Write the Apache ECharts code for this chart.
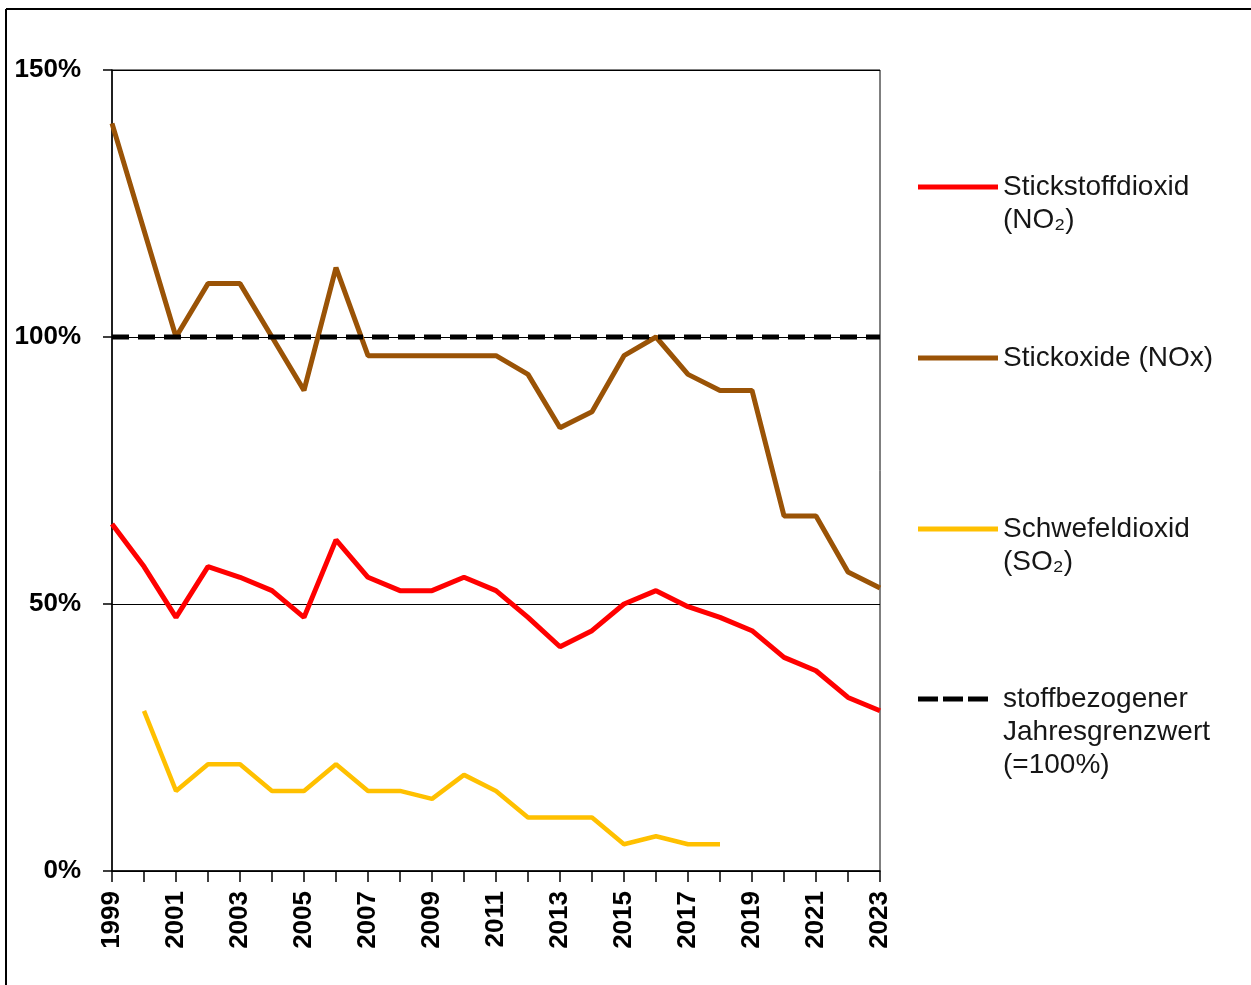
<!DOCTYPE html>
<html>
<head>
<meta charset="utf-8">
<script src="https://cdn.jsdelivr.net/npm/echarts@6/dist/echarts.min.js"></script>
<style>
html,body{margin:0;padding:0;background:#fff;}
#chart{width:1251px;height:985px;}
</style>
</head>
<body>
<div id="chart"></div>
<script>
var years = ['1999','2000','2001','2002','2003','2004','2005','2006','2007','2008','2009','2010','2011','2012','2013','2014','2015','2016','2017','2018','2019','2020','2021','2022','2023'];
var no2 = [65,57,47.5,57,55,52.5,47.5,62,55,52.5,52.5,55,52.5,47.5,42,45,50,52.5,49.5,47.5,45,40,37.5,32.5,30];
var nox = [140,120,100,110,110,100,90,113,96.5,96.5,96.5,96.5,96.5,93,83,86,96.5,100,93,90,90,66.5,66.5,56,53];
var so2 = [null,30,15,20,20,15,15,20,15,15,13.5,18,15,10,10,10,5,6.5,5,5,null,null,null,null,null];
var limitValue = 100;
var yTicks = [0,50,100,150];

var names = {
  no2: 'Stickstoffdioxid\n(NO\u2082)',
  nox: 'Stickoxide (NOx)',
  so2: 'Schwefeldioxid\n(SO\u2082)',
  lim: 'stoffbezogener\nJahresgrenzwert\n(=100%)'
};
var limitData = years.map(function(){ return limitValue; });

function pad(name){
  var n = name.split('\n').length;
  var pre = '';
  for (var i = 1; i < n; i++) pre += ' \n';
  return pre + name;
}
function legendAt(name, top, color, dashed){
  return {
    data: [name], left: 918, top: top, orient: 'vertical', padding: 0,
    itemWidth: dashed ? 70 : 80, itemHeight: 5, selectedMode: false,
    icon: dashed ? 'path://M0,0h20v5h-20zM25,0h20v5h-20zM50,0h20v5h-20z' : 'rect',
    itemStyle: { color: color, borderWidth: 0 },
    formatter: function(n){ return pad(n); },
    textStyle: { fontFamily: 'Liberation Sans, Arial, sans-serif', fontSize: 28, lineHeight: 33, color: '#161616', padding: [0, 0, 0, dashed ? 10 : 0] }
  };
}

var chart = echarts.init(document.getElementById('chart'), null, {renderer: 'canvas'});
chart.setOption({
  animation: false,
  backgroundColor: '#fff',
  graphic: [
    { type: 'line', shape: {x1: 6, y1: 9, x2: 1251, y2: 9}, style: {stroke: '#000', lineWidth: 2} },
    { type: 'line', shape: {x1: 6, y1: 9, x2: 6, y2: 985}, style: {stroke: '#000', lineWidth: 2} }
  ],
  grid: { left: 112, top: 70, right: 371, bottom: 114, show: true, borderColor: '#000', borderWidth: 1, backgroundColor: 'transparent' },
  legend: [
    legendAt(names.no2, 137.5, '#ff0000', false),
    legendAt(names.nox, 341.5, '#9a5306', false),
    legendAt(names.so2, 479.5, '#ffc000', false),
    legendAt(names.lim, 616.5, '#000000', true)
  ],
  xAxis: {
    type: 'category', data: years, boundaryGap: false,
    axisLine: { lineStyle: { color: '#000', width: 1.5 } },
    axisTick: { show: true, interval: 0, length: 11, lineStyle: { color: '#000', width: 1.5 } },
    axisLabel: { interval: 1, rotate: 90, margin: 20, color: '#000', fontFamily: 'Liberation Sans, Arial, sans-serif', fontWeight: 'bold', fontSize: 26 },
    splitLine: { show: false }
  },
  yAxis: {
    type: 'value', min: yTicks[0], max: yTicks[yTicks.length-1], interval: 50,
    axisLine: { show: true, lineStyle: { color: '#000', width: 1.5 } },
    axisTick: { show: true, length: 9, lineStyle: { color: '#000', width: 1.5 } },
    axisLabel: { formatter: '{value}%', margin: 31, color: '#000', fontFamily: 'Liberation Sans, Arial, sans-serif', fontWeight: 'bold', fontSize: 26 },
    splitLine: { show: true, lineStyle: { color: '#000', width: 1 } }
  },
  series: [
    { name: names.no2, type: 'line', data: no2, symbol: 'none', lineStyle: { color: '#ff0000', width: 5 }, itemStyle: { color: '#ff0000' }, z: 3 },
    { name: names.nox, type: 'line', data: nox, symbol: 'none', lineStyle: { color: '#9a5306', width: 5 }, itemStyle: { color: '#9a5306' }, z: 3 },
    { name: names.so2, type: 'line', data: so2, symbol: 'none', connectNulls: false, lineStyle: { color: '#ffc000', width: 4.5 }, itemStyle: { color: '#ffc000' }, z: 3 },
    { name: names.lim, type: 'line', data: limitData, symbol: 'none', lineStyle: { color: '#000', width: 5, type: [17, 9] }, itemStyle: { color: '#000' }, z: 4 }
  ]
});
</script>
</body>
</html>
